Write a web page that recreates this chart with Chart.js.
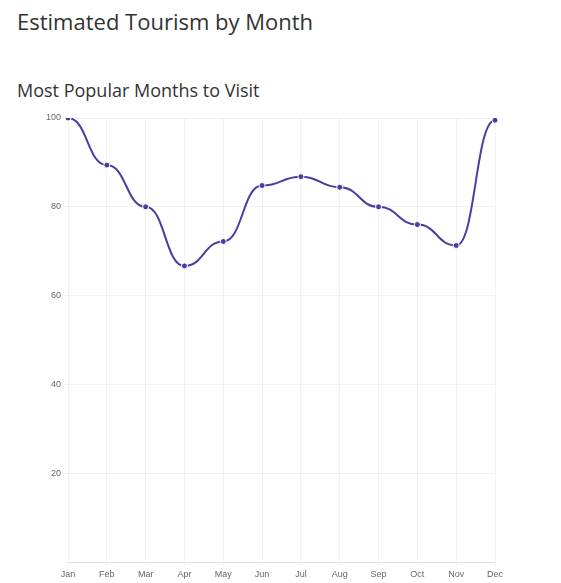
<!DOCTYPE html>
<html>
<head>
<meta charset="utf-8">
<script src="https://cdn.jsdelivr.net/npm/chart.js@4.4.1/dist/chart.umd.min.js"></script>
<style>
  body { margin: 0; background: #fff; font-family: "Open Sans", sans-serif; color: #333; }
  h1 { position: absolute; left: 17px; top: 6px; margin: 0; font-size: 22px; font-weight: 400; line-height: 30px; }
  h2 { position: absolute; left: 17px; top: 77px; margin: 0; font-size: 18px; font-weight: 400; line-height: 26px; }
  .chart { position: absolute; left: 0; top: 100px; width: 561px; height: 483px; }
</style>
</head>
<body>
<h1>Estimated Tourism by Month</h1>
<h2>Most Popular Months to Visit</h2>
<div class="chart"><canvas id="c"></canvas></div>
<script>
const months = ['Jan', 'Feb', 'Mar', 'Apr', 'May', 'Jun', 'Jul', 'Aug', 'Sep', 'Oct', 'Nov', 'Dec']
const popularity = [100, 89.4, 80, 66.7, 72.2, 84.8, 86.8, 84.4, 80, 76, 71.3, 99.5]
const yTicks = [0, 20, 40, 60, 80, 100]

// curve leaves and enters every point flat, like the reference
const flatTangents = {
  id: 'flatTangents',
  beforeDatasetDraw(chart, args){
    const line = args.meta.dataset
    line.updateControlPoints(chart.chartArea, 'x')
    const pts = line.points
    const k = 0.5
    pts.forEach((p, i) => {
      const prev = pts[i - 1] || p
      const next = pts[i + 1] || p
      p.cp1x = p.x - (p.x - prev.x) * k
      p.cp1y = p.y
      p.cp2x = p.x + (next.x - p.x) * k
      p.cp2y = p.y
    })
    delete line._path
  }
}

const grid = 'rgba(0,0,0,0.05)'
const ctx = document.getElementById('c').getContext('2d')
new Chart(ctx, {
  type: 'line',
  data: {
    labels: months,
    datasets: [{
      label: 'Popularity',
      data: popularity,
      borderColor: '#4f3aa3',
      backgroundColor: '#4f3aa3',
      borderWidth: 2,
      tension: 0.4,
      fill: false,
      pointRadius: 3,
      pointBorderColor: '#fff',
      pointBorderWidth: 1,
      pointBackgroundColor: '#4f3aa3'
    }]
  },
  options: {
    responsive: true,
    maintainAspectRatio: false,
    animation: false,
    layout: { padding: { left: 43, right: 66, top: 18, bottom: 0 } },
    plugins: { legend: { display: false }, tooltip: { enabled: false } },
    scales: {
      x: {
        grid: { color: grid, tickLength: 4 },
        border: { color: 'rgba(0,0,0,0.07)' },
        ticks: { color: '#666', font: { family: 'Liberation Sans', size: 9 }, padding: 3, maxRotation: 0 }
      },
      y: {
        min: 0,
        max: 100,
        afterBuildTicks(axis){ axis.ticks = yTicks.map(v => ({ value: v })) },
        grid: { color: grid, tickLength: 4 },
        border: { display: false },
        ticks: {
          color: '#666',
          font: { family: 'Liberation Sans', size: 9 },
          padding: 3,
          callback: v => v === 0 ? '' : v
        }
      }
    }
  },
  plugins: [flatTangents]
})
</script>
</body>
</html>
